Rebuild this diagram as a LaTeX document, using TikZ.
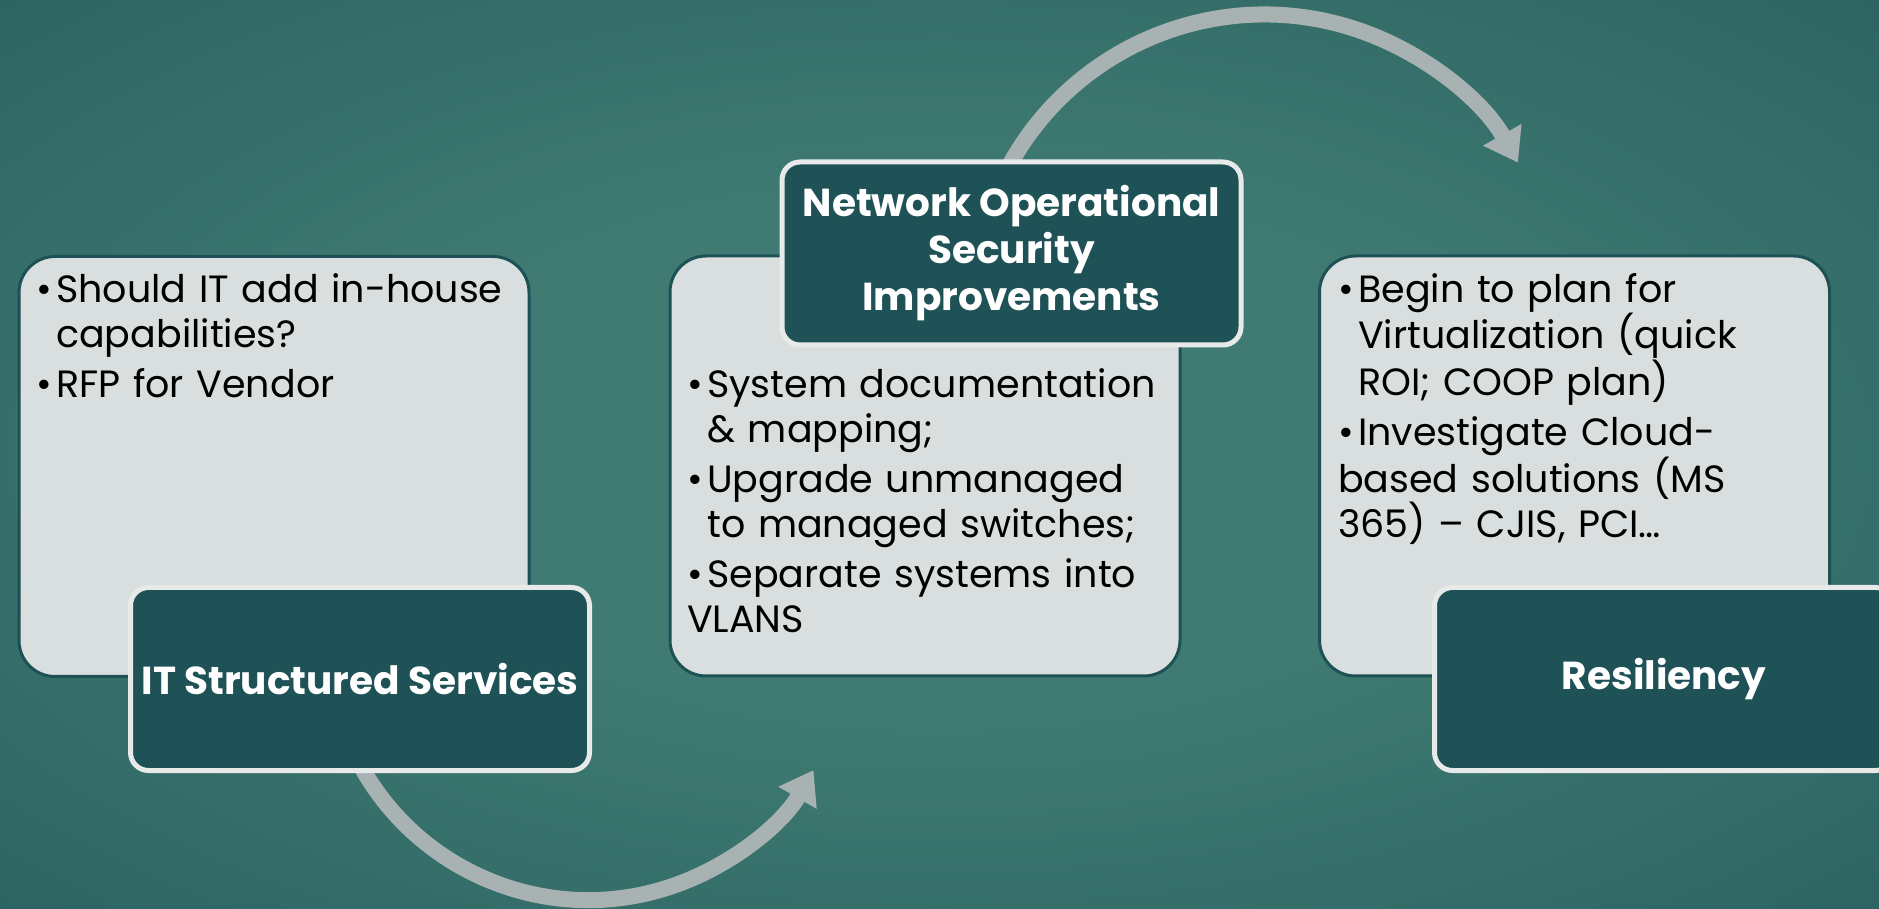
\documentclass[tikz,border=0pt]{standalone}
\usepackage{fontspec}
\setmainfont{Poppins}
\usetikzlibrary{arrows.meta}

\definecolor{bgmid}{HTML}{3F7B72}
\definecolor{bgedge}{HTML}{265B5D}
\definecolor{panelgrey}{HTML}{D9DFDF}
\definecolor{boxrim}{HTML}{1E5156}
\definecolor{tagteal}{HTML}{1F5257}
\definecolor{tagrim}{HTML}{E8EAEA}
\definecolor{arrowgrey}{HTML}{A9B2B2}

% soft teal backdrop, lighter towards the middle
\pgfdeclareradialshading{backdrop}{\pgfpoint{0bp}{0bp}}{color(0bp)=(bgmid); color(14bp)=(bgmid); color(44bp)=(bgedge); color(72bp)=(bgedge!78!black)}

% one bullet point with a hanging indent
\newcommand{\itm}[1]{\par\hangindent=20pt\hangafter=1\noindent\makebox[20pt][l]{\textbullet}#1}

\begin{document}
\begin{tikzpicture}[x=1pt, y=1pt,
  panel/.style={draw=boxrim, line width=3pt, fill=panelgrey, rounded corners=36pt, minimum width=510pt, minimum height=420pt},
  tag/.style={draw=tagrim, line width=5pt, fill=tagteal, rounded corners=18pt, minimum width=459pt, minimum height=183pt, text=white, align=center, font=\fontsize{39}{47}\selectfont\bfseries},
  list/.style={anchor=north west, inner sep=0pt, text width=490pt, align=left, font=\fontsize{38}{45}\selectfont\setlength{\parskip}{5pt}},
  loop/.style={draw=arrowgrey, line width=16pt, -{Triangle[width=42pt, length=32pt]}}]
  \useasboundingbox (0,0) rectangle (1879,908);
  \shade[shading=backdrop] (0,0) rectangle (1879,908);

  % light panels holding the bullet lists
  \node[panel] (p1) at (274,441.5) {};
  \node[panel] (p2) at (925,442) {};
  \node[panel] (p3) at (1574.5,442) {};

  % arrows running behind the title boxes
  \draw[loop] (344,179) arc[start angle=200, end angle=330, radius=260];
  \draw[loop] (991,702) arc[start angle=160, end angle=29.4, radius=291];

  \node[tag] (t1) at (360,229) {IT Structured Services};
  \node[tag] (t2) at (1011.5,654.5) {Network Operational\\Security\\Improvements};
  \node[tag] (t3) at (1664,229) {Resiliency};

  \node[list] (l1) at (36,656) {\itm{Should IT add in-house\newline capabilities?}\itm{RFP for Vendor}};
  \node[list] (l2) at (687,561) {\itm{System documentation\newline \& mapping;}\itm{Upgrade unmanaged\newline to managed switches;}\itm{Separate systems into\newline VLANS}};
  \node[list] (l3) at (1338,656) {\itm{Begin to plan for\newline Virtualization (quick\newline ROI; COOP plan)}\itm{Investigate Cloud-\newline based solutions (MS\newline 365) – CJIS, PCI…}};
\end{tikzpicture}
\end{document}
